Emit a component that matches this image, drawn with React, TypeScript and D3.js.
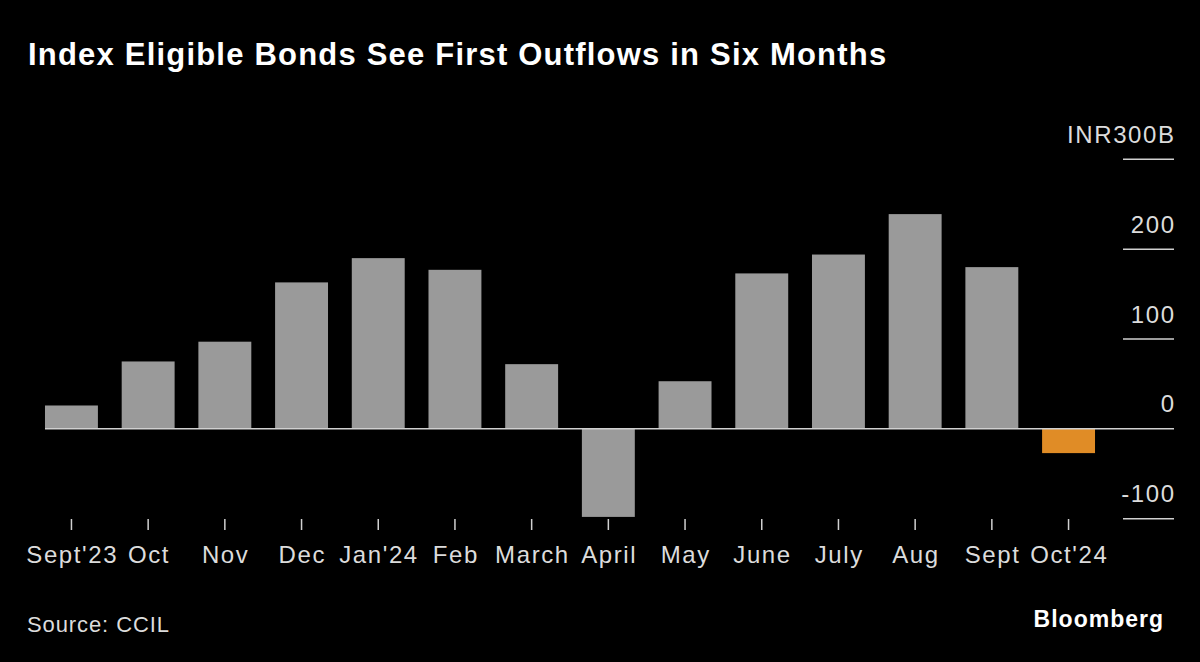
import React from "react";
import * as d3 from "d3";

const categories = ["Sept'23", "Oct", "Nov", "Dec", "Jan'24", "Feb", "March", "April", "May", "June", "July", "Aug", "Sept", "Oct'24"];
const values = [26, 75, 97, 163, 190, 177, 72, -98, 53, 173, 194, 239, 180, -27];
const highlight = [false, false, false, false, false, false, false, false, false, false, false, false, false, true];
const yTicks = [300, 200, 100, 0, -100];
const yTickLabels = ["INR300B", "200", "100", "0", "-100"];

const W = 1200;
const H = 662;
const FONT = "'Liberation Sans', Arial, sans-serif";

export default function App() {
  const x = d3
    .scaleBand<string>()
    .domain(categories)
    .range([33.1, 1106.9])
    .paddingInner(0.31)
    .paddingOuter(0.155);
  const y = d3.scaleLinear().domain([-100, 300]).range([518.7, 159.3]);

  const gridX0 = 1123;
  const gridX1 = 1174;
  const tickY0 = 519;
  const tickY1 = 530;
  const LS = 1.6;

  return (
    <svg
      width={W}
      height={H}
      style={{ position: "absolute", left: 0, top: 0, background: "#000" }}
      fontFamily={FONT}
    >
      <rect x={0} y={0} width={W} height={H} fill="#000" />
      <text x={28} y={65} fill="#fff" fontSize={31} fontWeight="bold" letterSpacing={1.2}>
        Index Eligible Bonds See First Outflows in Six Months
      </text>

      {yTicks.map((t, i) => (
        <g key={t}>
          {t !== 0 && (
            <line x1={gridX0} x2={gridX1} y1={y(t)} y2={y(t)} stroke="#d0d0d0" strokeWidth={1.5} />
          )}
          <text x={1174 + LS} y={y(t) - 16.5} textAnchor="end" fill="#dcdcdc" fontSize={24} letterSpacing={LS}>
            {yTickLabels[i]}
          </text>
        </g>
      ))}

      {categories.map((c, i) => {
        const v = values[i];
        const y0 = y(Math.max(0, v));
        const h = Math.abs(y(v) - y(0));
        return (
          <rect
            key={c}
            x={x(c)}
            y={y0}
            width={x.bandwidth()}
            height={h}
            fill={highlight[i] ? "#e08c26" : "#9a9a9a"}
          />
        );
      })}

      <line x1={45} x2={gridX1} y1={y(0)} y2={y(0)} stroke="#d0d0d0" strokeWidth={1.5} />

      {categories.map((c) => {
        const cx = (x(c) as number) + x.bandwidth() / 2;
        return (
          <g key={c}>
            <line x1={cx} x2={cx} y1={tickY0} y2={tickY1} stroke="#d0d0d0" strokeWidth={1.5} />
            <text x={cx + LS / 2} y={563} textAnchor="middle" fill="#dcdcdc" fontSize={24} letterSpacing={LS}>
              {c}
            </text>
          </g>
        );
      })}

      <text x={27} y={632} fill="#dcdcdc" fontSize={22} letterSpacing={0.9}>
        Source: CCIL
      </text>
      <text x={1164} y={627} textAnchor="end" fill="#fff" fontSize={23} fontWeight="bold" letterSpacing={1}>
        Bloomberg
      </text>
    </svg>
  );
}
